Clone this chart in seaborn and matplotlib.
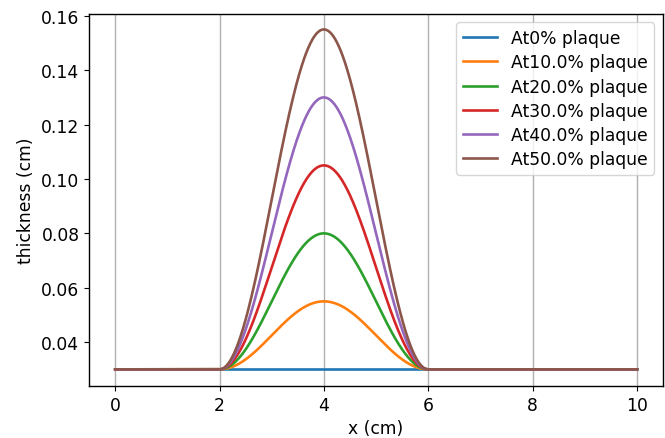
import numpy as np
import pandas as pd
import seaborn as sns
import matplotlib
matplotlib.use("Agg")
import matplotlib.pyplot as plt

# values
plaque_labels = ["At0% plaque", "At10.0% plaque", "At20.0% plaque",
                 "At30.0% plaque", "At40.0% plaque", "At50.0% plaque"]
base_thickness = 0.03          # cm, wall thickness away from plaque
peak_thickness = [0.03, 0.055, 0.08, 0.105, 0.13, 0.155]   # cm, at x = 4
plaque_start, plaque_center, plaque_end = 2.0, 4.0, 6.0     # cm
x_min, x_max = 0.0, 10.0

x = np.linspace(x_min, x_max, 1001)
frames = []
for label, peak in zip(plaque_labels, peak_thickness):
    # raised-cosine plaque profile between 2 and 6 cm
    inside = (x >= plaque_start) & (x <= plaque_end)
    bump = np.where(inside, 0.5 * (1 + np.cos(np.pi * (x - plaque_center) / (plaque_end - plaque_center))), 0.0)
    frames.append(pd.DataFrame({"x": x, "thickness": base_thickness + (peak - base_thickness) * bump, "case": label}))
df = pd.concat(frames, ignore_index=True)

plt.rcParams["font.size"] = 12.3

fig, ax = plt.subplots(figsize=(6.65, 4.39), dpi=100)
fig.subplots_adjust(left=0.134, right=0.997, top=0.966, bottom=0.118)

sns.lineplot(data=df, x="x", y="thickness", hue="case", palette="tab10",
             linewidth=1.9, ax=ax)

ax.set_xlabel("x (cm)")
ax.set_ylabel("thickness (cm)")
ax.xaxis.grid(True, color="#b0b0b0", linewidth=1.0)
ax.set_axisbelow(True)
ax.set_xticks([0, 2, 4, 6, 8, 10])
ax.set_yticks([0.04, 0.06, 0.08, 0.10, 0.12, 0.14, 0.16])
ax.set_ylim(0.0238, 0.1607)
for s in ax.spines.values():
    s.set_linewidth(1.0)
ax.legend(title=None, loc="upper right", labelspacing=0.36)

fig.savefig("out.png", dpi=100)
